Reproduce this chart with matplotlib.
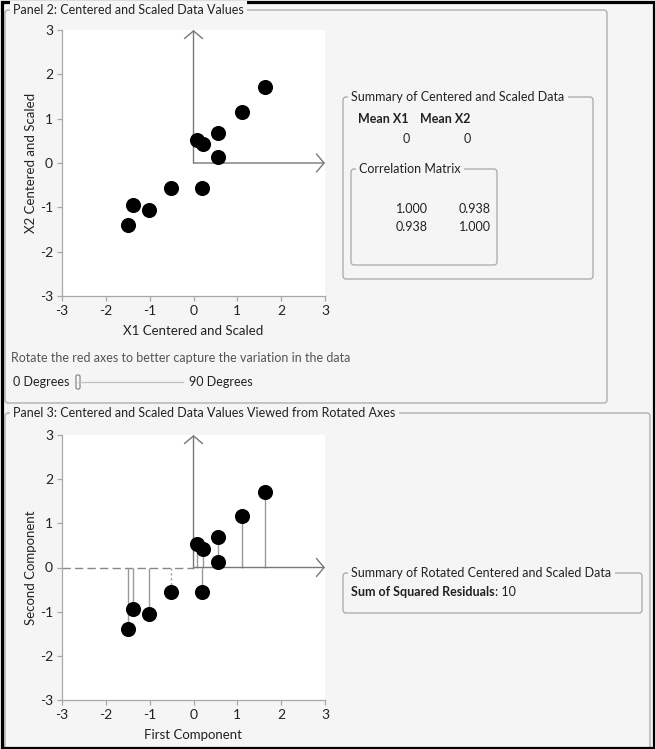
import numpy as np
import matplotlib
matplotlib.use("Agg")
import matplotlib.pyplot as plt
from matplotlib.patches import FancyBboxPatch, Rectangle

plt.rcParams['font.family'] = ['Lato', 'DejaVu Sans']
plt.rcParams['axes.unicode_minus'] = False

# centered and scaled data
x1 = [1.63, 1.10, 0.57, 0.08, 0.21, 0.55, -0.52, 0.19, -1.39, -1.01, -1.50]
x2 = [1.71, 1.16, 0.68, 0.53, 0.43, 0.13, -0.56, -0.56, -0.94, -1.06, -1.40]
mean_labels = ["Mean X1", "Mean X2"]
means = [0, 0]
corr = [["1.000", "0.938"], ["0.938", "1.000"]]
angle_deg = 0
ssr = 10
ticks = [-3, -2, -1, 0, 1, 2, 3]

BG = '#f5f5f5'
EDGE = '#a8a8a8'
TXT = '#222222'

W, H = 655, 749
fig = plt.figure(figsize=(W / 100, H / 100), dpi=100, facecolor=BG)

# pixel-space layer for the panels, boxes and slider
bg = fig.add_axes([0, 0, 1, 1])
bg.set_xlim(0, W)
bg.set_ylim(H, 0)
bg.axis('off')


def group_box(x0, y0, x1_, y1_, title, fs=9):
    box = FancyBboxPatch((x0, y0), x1_ - x0, y1_ - y0,
                         boxstyle="round,pad=0,rounding_size=3",
                         fc='none', ec=EDGE, lw=0.9, clip_on=False)
    bg.add_patch(box)
    bg.text(x0 + 8, y0, title, ha='left', va='center', fontsize=fs, color=TXT,
            bbox=dict(fc=BG, ec='none', pad=2.5))


group_box(5, 10, 607, 403, "Panel 2: Centered and Scaled Data Values")
group_box(5, 413, 650, 770, "Panel 3: Centered and Scaled Data Values Viewed from Rotated Axes")

# slider
bg.text(11, 358, "Rotate the red axes to better capture the variation in the data",
        ha='left', va='center', fontsize=9, color='#555555')
bg.text(13, 382, "0 Degrees", ha='left', va='center', fontsize=9, color=TXT)
track0, track1 = 78, 183
bg.plot([track0, track1], [382, 382], color='#c0c0c0', lw=0.9)
thumb_x = track0 + angle_deg / 90 * (track1 - track0)
bg.add_patch(FancyBboxPatch((thumb_x - 2, 375), 4, 14,
                            boxstyle="round,pad=0,rounding_size=1.5",
                            fc='#fbfbfb', ec='#7a7a7a', lw=0.8))
bg.text(189, 382, "90 Degrees", ha='left', va='center', fontsize=9, color=TXT)

# summary of centered and scaled data
group_box(343, 97, 593, 279, "Summary of Centered and Scaled Data")
for lab, m, xl, xr in zip(mean_labels, means, [358, 420], [410, 471]):
    bg.text(xl, 119, lab, ha='left', va='center', fontsize=9, fontweight='bold', color=TXT)
    bg.text(xr, 139, str(m), ha='right', va='center', fontsize=9, color=TXT)

group_box(351, 169, 497, 265, "Correlation Matrix")
for i, row in enumerate(corr):
    for j, v in enumerate(row):
        bg.text([428, 491][j], 209 + 18 * i, v, ha='right', va='center', fontsize=9, color=TXT)

# summary of rotated data
group_box(343, 573, 642, 613, "Summary of Rotated Centered and Scaled Data")
t = bg.text(351, 592, "Sum of Squared Residuals", ha='left', va='center',
            fontsize=9, fontweight='bold', color=TXT)
bg.annotate(": %d" % ssr, xy=(1, 0.5), xycoords=t, ha='left', va='center',
            fontsize=9, color=TXT)

# outer frame
bg.add_patch(Rectangle((1.5, 1.5), W - 3, H - 3, fc='none', ec='black', lw=2.3, clip_on=False))


def make_axes(top, bottom, xlabel, ylabel):
    ax = fig.add_axes([62 / W, 1 - bottom / H, (325 - 62) / W, (bottom - top) / H])
    ax.set_facecolor('white')
    ax.set_xlim(-3, 3)
    ax.set_ylim(-3, 3)
    ax.set_xticks(ticks)
    ax.set_yticks(ticks)
    for s in ['top', 'right']:
        ax.spines[s].set_visible(False)
    for s in ['left', 'bottom']:
        ax.spines[s].set_color(EDGE)
        ax.spines[s].set_linewidth(0.9)
    ax.tick_params(colors=EDGE, labelcolor=TXT, length=3.5, width=0.9, labelsize=10, pad=3)
    ax.set_xlabel(xlabel, fontsize=9.5, color=TXT, labelpad=6)
    ax.set_ylabel(ylabel, fontsize=9.5, color=TXT, labelpad=2)
    return ax


def rot_axes(ax, ang, length=3):
    a = np.deg2rad(ang)
    for d in [(np.cos(a), np.sin(a)), (-np.sin(a), np.cos(a))]:
        ax.annotate('', xy=(length * d[0], length * d[1]), xytext=(0, 0),
                    arrowprops=dict(arrowstyle='->,head_length=0.55,head_width=0.65',
                                    color='#777777', lw=1, mutation_scale=10,
                                    shrinkA=0, shrinkB=0),
                    annotation_clip=False)


x1 = np.array(x1)
x2 = np.array(x2)
a = np.deg2rad(angle_deg)
first = x1 * np.cos(a) + x2 * np.sin(a)
second = -x1 * np.sin(a) + x2 * np.cos(a)

# panel 2
ax1 = make_axes(30, 296, "X1 Centered and Scaled", "X2 Centered and Scaled")
rot_axes(ax1, angle_deg)
ax1.scatter(x1, x2, s=118, color='black', zorder=3, linewidths=0)

# panel 3
ax2 = make_axes(435, 700, "First Component", "Second Component")
ax2.plot([-3, 0], [0, 0], color='#888888', lw=1, ls=(0, (6, 3)), zorder=1)
rot_axes(ax2, 0)
styles = ['solid'] * len(first)
styles[6] = (0, (1.5, 2))
ax2.vlines(first, 0, second, colors='#999999', lw=1, linestyles=styles, zorder=2)
ax2.scatter(first, second, s=118, color='black', zorder=3, linewidths=0)

fig.savefig("out.png", dpi=100, facecolor=BG)
